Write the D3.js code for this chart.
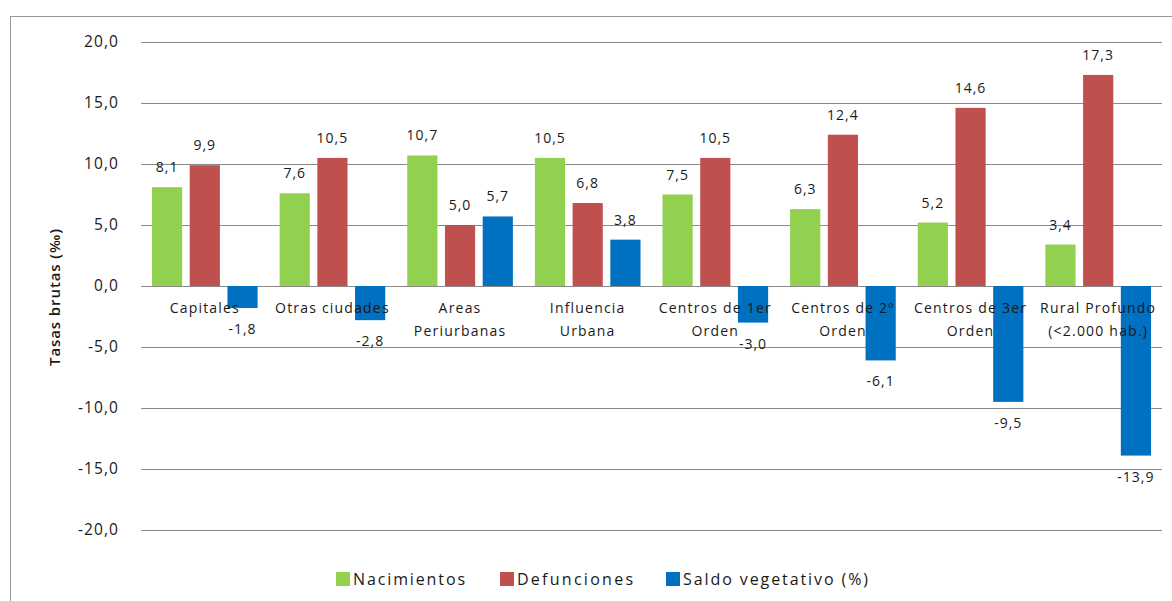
<!DOCTYPE html>
<html><head><meta charset="utf-8">
<script src="https://cdn.jsdelivr.net/npm/d3@7"></script>
<style>body{margin:0;background:#fff;} text{font-family:"Open Sans",sans-serif;fill:#1a1a1a;}</style>
</head><body><svg id="c" width="1172" height="601"></svg>
<script>
const categories = [["Capitales"],["Otras ciudades"],["Areas","Periurbanas"],["Influencia","Urbana"],["Centros de 1er","Orden"],["Centros de 2º","Orden"],["Centros de 3er","Orden"],["Rural Profundo","(<2.000 hab.)"]];
const nacimientos = [8.1,7.6,10.7,10.5,7.5,6.3,5.2,3.4];
const defunciones = [9.9,10.5,5.0,6.8,10.5,12.4,14.6,17.3];
const saldo = [-1.8,-2.8,5.7,3.8,-3.0,-6.1,-9.5,-13.9];
const seriesNames = ["Nacimientos","Defunciones","Saldo vegetativo (%)"];
const colors = ["#92D050","#C0504D","#0070C0"];
const yTicks = [-20,-15,-10,-5,0,5,10,15,20];

const svg = d3.select("#c");
svg.append("rect").attr("x",10.5).attr("y",16.5).attr("width",1170).attr("height",600).attr("fill","none").attr("stroke","#999");

const x0 = d3.scaleBand().domain(d3.range(categories.length)).range([141,1162]).paddingInner(0).paddingOuter(0);
const x1 = d3.scaleBand().domain([0,1,2]).range([11, x0.bandwidth()-11]).paddingInner(0.2).paddingOuter(0);
const y = d3.scaleLinear().domain([-20,20]).range([530,42]);
const fmt = v => d3.format(".1f")(Math.abs(v)).replace(".",",").replace(/^/, v<0?"-":"");

// grid
svg.append("g").selectAll("line").data(yTicks).join("line")
  .attr("x1",141).attr("x2",1162).attr("y1",d=>Math.round(y(d))+0.5).attr("y2",d=>Math.round(y(d))+0.5)
  .attr("stroke","#8a8a8a").attr("stroke-width",1);
// y tick labels
const yAxis = d3.axisLeft(y).tickValues(yTicks).tickFormat(fmt).tickSize(0).tickPadding(0);
const ya = svg.append("g").attr("transform","translate(119,0)").call(yAxis);
ya.select(".domain").remove();
ya.selectAll("text").style("font-family","Open Sans").style("font-size","15.5px").attr("fill","#1a1a1a").style("letter-spacing","1.1px");

// y title
svg.append("text").attr("transform","translate(60,297) rotate(-90)").attr("text-anchor","middle")
  .style("font-size","15px").style("font-weight","600").style("letter-spacing","0.9px").text("Tasas brutas (‰)");

const series = [nacimientos, defunciones, saldo];
const gBars = svg.append("g");
series.forEach((vals,si)=>{
  gBars.selectAll(null).data(vals).join("rect")
    .attr("x",(d,i)=>x0(i)+x1(si)).attr("width",x1.bandwidth())
    .attr("y",d=>y(Math.max(0,d))).attr("height",d=>Math.abs(y(d)-y(0)))
    .attr("fill",colors[si]);
});

// category labels
const gCat = svg.append("g");
categories.forEach((lines,i)=>{
  const t = gCat.append("text").attr("text-anchor","middle").style("font-size","14px").style("letter-spacing","1.2px");
  lines.forEach((l,k)=>t.append("tspan").attr("x",x0(i)+x0.bandwidth()/2).attr("y",313+k*23).text(l));
});

// value labels
series.forEach((vals,si)=>{
  svg.append("g").selectAll("text").data(vals).join("text")
    .attr("text-anchor","middle").style("font-size","14px").style("letter-spacing","1px")
    .attr("x",(d,i)=>x0(i)+x1(si)+x1.bandwidth()/2)
    .attr("y",d=> d>=0 ? y(d)-15 : y(d)+26)
    .text(fmt);
});

// legend
const legX = [336,500,666];
const legW = [112,116,185];
seriesNames.forEach((n,i)=>{
  svg.append("rect").attr("x",legX[i]).attr("y",572).attr("width",14).attr("height",14).attr("fill",colors[i]);
  svg.append("text").attr("x",legX[i]+17).attr("y",585).style("font-size","16px")
    .attr("textLength",legW[i]).attr("lengthAdjust","spacing").text(n);
});
</script></body></html>
